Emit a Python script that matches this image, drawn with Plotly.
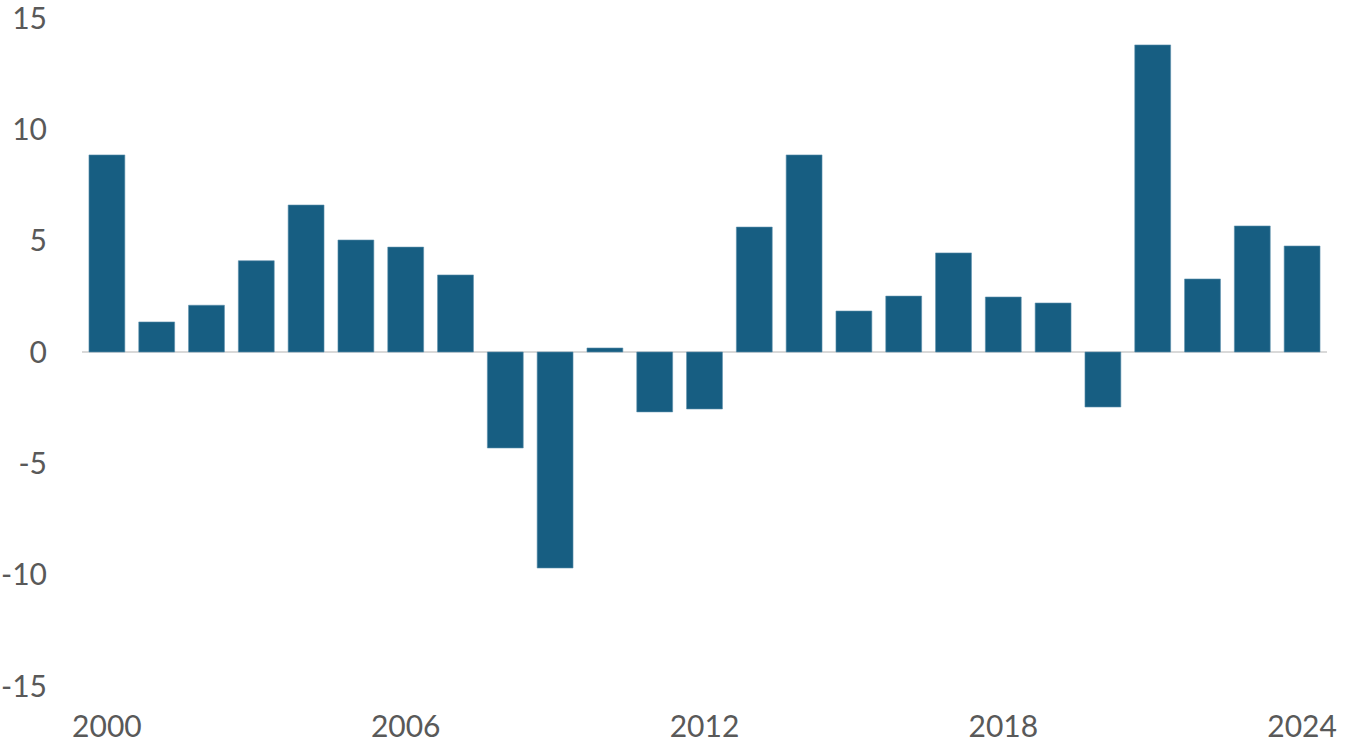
import plotly.graph_objects as go

years = list(range(2000, 2025))
values = [8.85, 1.35, 2.1, 4.1, 6.6, 5.03, 4.71, 3.46, -4.31, -9.7,
          0.18, -2.69, -2.56, 5.61, 8.85, 1.84, 2.51, 4.45, 2.47, 2.2,
          -2.47, 13.79, 3.28, 5.66, 4.76]
x_ticks = [2000, 2006, 2012, 2018, 2024]
y_ticks = [-15, -10, -5, 0, 5, 10, 15]

fig = go.Figure(go.Bar(
    x=years, y=values,
    marker=dict(color="#175E82", line=dict(color="#5a8fab", width=0.6)),
))

font = dict(family="Lato, 'DejaVu Sans', sans-serif", size=30, color="#595959")

fig.update_layout(
    width=1347, height=745,
    margin=dict(l=82, r=20, t=18, b=59, autoexpand=False),
    paper_bgcolor="white", plot_bgcolor="white",
    bargap=0.28,
    showlegend=False,
    font=font,
)
fig.update_xaxes(
    range=[1999.5, 2024.5], tickvals=x_ticks, ticktext=[str(v) for v in x_ticks],
    showgrid=False, zeroline=False, showline=False, ticks="",
    ticklabelstandoff=20, tickfont=font, automargin=False,
    ticklabeloverflow="allow",
)
fig.update_yaxes(
    range=[-15, 15], tickvals=y_ticks, ticktext=[str(v) for v in y_ticks],
    showgrid=False, zeroline=True, zerolinecolor="#d9d9d9", zerolinewidth=2,
    showline=False, ticks="", ticklabelstandoff=34, tickfont=font, automargin=False,
    ticklabeloverflow="allow",
)

fig.write_html(
    "out.html",
    config={"displayModeBar": False},
    post_script="document.body.style.margin='0';document.body.style.overflow='hidden';",
)
